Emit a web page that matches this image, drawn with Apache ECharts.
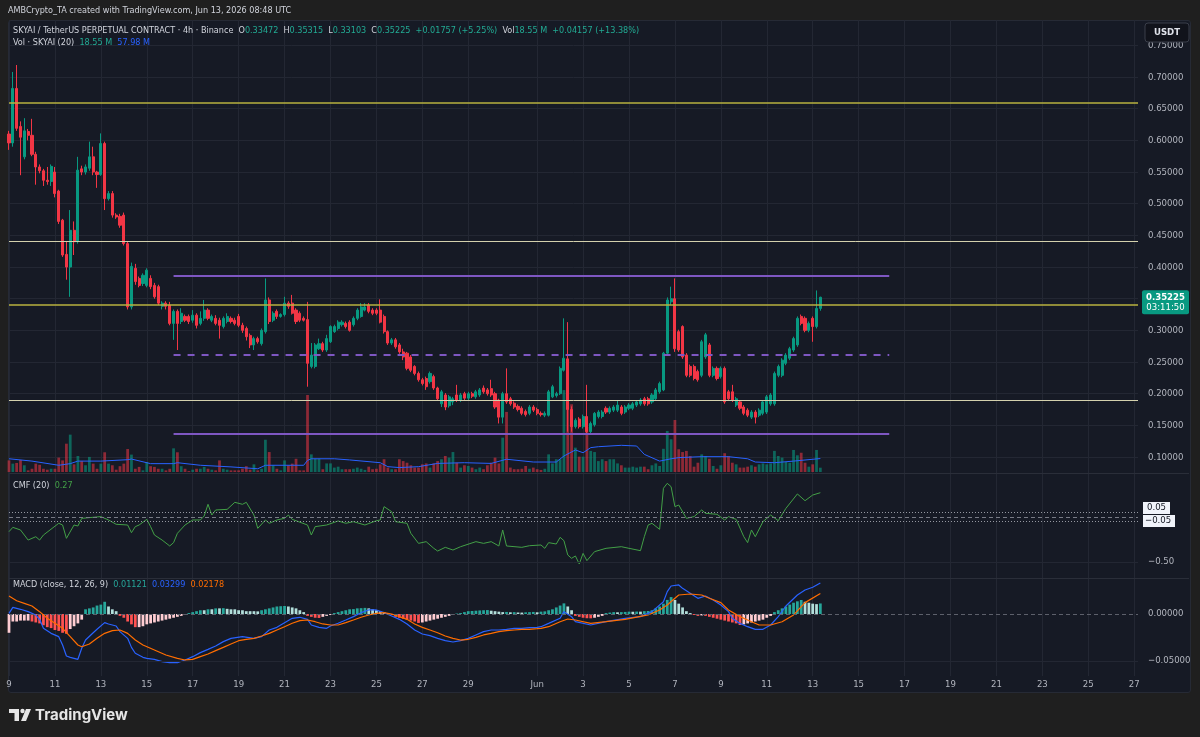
<!DOCTYPE html>
<html>
<head>
<meta charset="utf-8">
<title>SKYAI 4h</title>
<script src="https://cdn.jsdelivr.net/npm/echarts@6.0.0/dist/echarts.min.js"></script>
<style>
html,body{margin:0;padding:0;background:#1f1f1f;}
#panel{position:absolute;left:8px;top:20px;width:1181px;height:671px;background:#161a25;border:1px solid #262a35;border-radius:3px;}
#chart{position:absolute;left:0;top:0;width:1200px;height:737px;}
</style>
</head>
<body>
<div id="panel"></div>
<div id="chart"></div>
<script>
// 4h candles, SKYAIUSDT perp, from May 9 00:00 UTC
// [open, close, low, high]
var candles = [
  [0.610,0.596,0.585,0.615],[0.596,0.682,0.590,0.708],[0.682,0.619,0.615,0.719],[0.622,0.605,0.545,0.630],
  [0.574,0.615,0.570,0.635],[0.614,0.608,0.600,0.618],[0.608,0.578,0.575,0.634],[0.578,0.558,0.530,0.582],
  [0.558,0.552,0.548,0.562],[0.552,0.537,0.528,0.555],[0.537,0.535,0.530,0.558],[0.535,0.559,0.528,0.562],
  [0.550,0.516,0.510,0.558],[0.520,0.472,0.468,0.522],[0.474,0.419,0.416,0.476],[0.420,0.400,0.380,0.440],
  [0.400,0.458,0.353,0.490],[0.458,0.440,0.419,0.472],[0.440,0.553,0.437,0.574],[0.555,0.550,0.545,0.560],
  [0.550,0.558,0.546,0.562],[0.556,0.574,0.552,0.598],[0.574,0.550,0.545,0.590],[0.550,0.546,0.525,0.552],
  [0.546,0.595,0.544,0.611],[0.595,0.508,0.490,0.598],[0.508,0.516,0.505,0.520],[0.516,0.482,0.478,0.520],
  [0.482,0.479,0.476,0.485],[0.480,0.466,0.462,0.484],[0.482,0.437,0.434,0.486],[0.437,0.337,0.333,0.440],
  [0.337,0.401,0.333,0.407],[0.398,0.377,0.372,0.405],[0.382,0.371,0.368,0.385],[0.374,0.387,0.370,0.390],
  [0.371,0.395,0.368,0.398],[0.382,0.369,0.365,0.387],[0.371,0.353,0.350,0.375],[0.369,0.343,0.340,0.372],
  [0.338,0.343,0.333,0.346],[0.343,0.338,0.333,0.346],[0.340,0.311,0.308,0.345],[0.311,0.330,0.285,0.333],
  [0.330,0.311,0.269,0.333],[0.314,0.327,0.310,0.335],[0.322,0.316,0.313,0.325],[0.322,0.314,0.310,0.325],
  [0.316,0.324,0.312,0.332],[0.324,0.308,0.303,0.327],[0.311,0.319,0.308,0.330],[0.319,0.332,0.315,0.348],
  [0.332,0.319,0.316,0.335],[0.316,0.322,0.313,0.325],[0.319,0.311,0.308,0.324],[0.316,0.308,0.287,0.320],
  [0.306,0.319,0.303,0.322],[0.314,0.322,0.311,0.327],[0.319,0.314,0.311,0.322],[0.316,0.311,0.308,0.320],
  [0.322,0.308,0.305,0.326],[0.308,0.300,0.296,0.312],[0.303,0.290,0.284,0.306],[0.292,0.277,0.272,0.295],
  [0.277,0.287,0.269,0.290],[0.287,0.282,0.279,0.290],[0.279,0.300,0.276,0.303],[0.298,0.348,0.295,0.382],
  [0.348,0.314,0.310,0.352],[0.316,0.327,0.313,0.330],[0.330,0.322,0.318,0.333],[0.322,0.325,0.320,0.327],
  [0.325,0.343,0.322,0.353],[0.343,0.338,0.334,0.346],[0.343,0.327,0.325,0.356],[0.332,0.314,0.310,0.335],
  [0.327,0.316,0.313,0.330],[0.319,0.316,0.314,0.322],[0.317,0.248,0.211,0.345],[0.243,0.261,0.240,0.280],
  [0.243,0.277,0.240,0.280],[0.271,0.279,0.269,0.287],[0.279,0.269,0.266,0.282],[0.269,0.287,0.266,0.293],
  [0.282,0.306,0.280,0.308],[0.298,0.306,0.296,0.309],[0.303,0.313,0.300,0.316],[0.309,0.313,0.306,0.316],
  [0.311,0.306,0.303,0.314],[0.313,0.300,0.298,0.316],[0.309,0.319,0.306,0.322],[0.319,0.332,0.316,0.335],
  [0.322,0.337,0.320,0.343],[0.332,0.337,0.330,0.343],[0.340,0.330,0.327,0.343],[0.332,0.327,0.324,0.335],
  [0.332,0.327,0.324,0.335],[0.332,0.313,0.311,0.349],[0.322,0.298,0.295,0.325],[0.298,0.280,0.277,0.300],
  [0.280,0.285,0.277,0.288],[0.285,0.274,0.271,0.288],[0.277,0.266,0.263,0.280],[0.266,0.258,0.253,0.271],
  [0.264,0.240,0.237,0.266],[0.258,0.237,0.234,0.261],[0.243,0.232,0.229,0.245],[0.232,0.222,0.219,0.235],
  [0.222,0.216,0.213,0.225],[0.224,0.211,0.206,0.227],[0.219,0.232,0.216,0.235],[0.227,0.209,0.206,0.230],
  [0.209,0.192,0.189,0.211],[0.184,0.203,0.179,0.206],[0.198,0.179,0.174,0.201],[0.181,0.195,0.178,0.198],
  [0.187,0.192,0.182,0.195],[0.198,0.190,0.187,0.214],[0.190,0.198,0.187,0.201],[0.200,0.193,0.190,0.203],
  [0.193,0.200,0.190,0.203],[0.200,0.196,0.193,0.203],[0.195,0.203,0.192,0.206],[0.198,0.206,0.195,0.209],
  [0.209,0.203,0.200,0.213],[0.206,0.200,0.197,0.209],[0.208,0.198,0.195,0.222],[0.200,0.179,0.176,0.203],
  [0.190,0.163,0.153,0.192],[0.163,0.200,0.153,0.203],[0.200,0.187,0.184,0.240],[0.192,0.184,0.181,0.195],
  [0.185,0.179,0.176,0.188],[0.180,0.175,0.172,0.183],[0.177,0.169,0.166,0.180],[0.172,0.167,0.164,0.175],
  [0.169,0.179,0.166,0.182],[0.179,0.174,0.171,0.182],[0.175,0.169,0.166,0.178],[0.169,0.167,0.164,0.172],
  [0.166,0.169,0.163,0.172],[0.166,0.203,0.164,0.206],[0.195,0.211,0.193,0.214],[0.197,0.200,0.194,0.203],
  [0.200,0.240,0.198,0.243],[0.237,0.256,0.235,0.319],[0.255,0.175,0.140,0.313],[0.175,0.148,0.140,0.180],
  [0.148,0.158,0.145,0.161],[0.160,0.148,0.145,0.163],[0.148,0.164,0.145,0.167],[0.164,0.140,0.137,0.214],
  [0.140,0.153,0.137,0.156],[0.151,0.169,0.148,0.171],[0.164,0.171,0.161,0.174],[0.164,0.171,0.161,0.174],
  [0.177,0.171,0.168,0.180],[0.171,0.177,0.168,0.180],[0.174,0.179,0.171,0.182],[0.174,0.182,0.171,0.190],
  [0.179,0.169,0.166,0.182],[0.171,0.179,0.168,0.182],[0.177,0.182,0.174,0.185],[0.177,0.184,0.174,0.187],
  [0.182,0.187,0.179,0.190],[0.184,0.190,0.181,0.193],[0.192,0.184,0.181,0.195],[0.192,0.184,0.181,0.195],
  [0.187,0.198,0.184,0.201],[0.192,0.206,0.190,0.209],[0.203,0.216,0.200,0.219],[0.206,0.264,0.204,0.266],
  [0.264,0.348,0.261,0.352],[0.345,0.350,0.340,0.369],[0.350,0.271,0.266,0.382],[0.298,0.269,0.266,0.301],
  [0.306,0.258,0.255,0.308],[0.261,0.229,0.226,0.264],[0.243,0.229,0.226,0.246],[0.243,0.224,0.221,0.246],
  [0.235,0.222,0.219,0.238],[0.229,0.282,0.226,0.285],[0.258,0.293,0.255,0.296],[0.277,0.229,0.226,0.280],
  [0.229,0.240,0.226,0.243],[0.240,0.224,0.221,0.243],[0.227,0.240,0.224,0.243],[0.240,0.187,0.184,0.243],
  [0.203,0.192,0.189,0.206],[0.203,0.190,0.187,0.214],[0.182,0.192,0.179,0.195],[0.187,0.177,0.174,0.190],
  [0.179,0.169,0.166,0.182],[0.174,0.166,0.163,0.177],[0.163,0.171,0.160,0.174],[0.171,0.163,0.153,0.174],
  [0.166,0.174,0.163,0.177],[0.169,0.187,0.166,0.190],[0.171,0.195,0.168,0.198],[0.184,0.198,0.181,0.201],
  [0.184,0.232,0.181,0.235],[0.229,0.243,0.226,0.246],[0.229,0.253,0.226,0.256],[0.248,0.261,0.245,0.264],
  [0.256,0.271,0.253,0.274],[0.269,0.287,0.266,0.290],[0.277,0.319,0.274,0.322],[0.322,0.311,0.308,0.325],
  [0.319,0.300,0.297,0.322],[0.300,0.311,0.297,0.314],[0.319,0.306,0.282,0.322],[0.306,0.33468,0.303,0.363],
  [0.33472,0.35225,0.33103,0.35315]
];

// volume per candle, millions
var volumes = [
  50,36,39,52,29,7,14,36,31,14,10,14,14,62,50,122,161,33,69,47,29,65,36,14,36,85,36,29,10,25,36,99,
  75,14,22,7,43,25,22,14,14,7,14,102,85,25,14,4,10,14,14,22,14,10,7,50,14,10,7,7,7,14,25,10,33,7,14,
  139,86,29,14,7,50,29,36,57,7,7,332,
  76,57,57,12,37,37,19,23,12,12,12,14,19,14,9,23,12,14,33,55,19,12,12,55,47,40,29,19,19,33,37,19,37,
  47,55,69,62,86,40,19,29,26,19,12,19,12,29,40,62,37,148,259,19,12,12,14,26,14,19,12,9,14,76,37,55,55,353,
  297,292,105,66,66,194,91,86,47,55,47,55,55,37,29,19,19,23,19,23,23,12,29,37,26,100,177,141,224,98,86,
  91,69,23,40,76,69,57,26,14,29,81,69,40,33,19,19,23,29,23,33,37,33,37,91,69,62,43,40,95,72,83,40,23,33,
  95,18.55
];
var prevVolChange = 0.04157; // from the legend: +0.04157 (+13.38%)
var prevVolPct = 13.38;

// volume MA(20) as [candle index, millions]
var volMA = [
  [0,57],[6,47],[13,29],[16,36],[18,47],[24,47],[31,53],[32,56],[37,36],[43,36],[44,40],[50,29],[58,22],
  [65,14],[67,29],[74,29],[77,29],[78,50],[79,57],[85,57],[89,52],[97,40],[99,23],[102,19],[107,23],
  [112,37],[119,40],[126,37],[130,55],[137,43],[143,43],[145,69],[148,95],[150,83],[152,105],[154,109],
  [160,115],[164,112],[166,76],[170,47],[173,57],[175,62],[181,66],[188,66],[193,57],[195,43],[200,40],
  [205,47],[212,57.98]
];

// Chaikin money flow (20)
var cmf = [
  [0,-0.163],[1,-0.115],[3,-0.144],[5,-0.256],[7,-0.219],[8,-0.256],[9,-0.2],[13,-0.07],[14,-0.089],
  [15,-0.237],[17,-0.089],[18,-0.1],[19,-0.015],[21,-0.007],[24,0.004],[26,-0.033],[28,-0.081],[31,-0.089],
  [32,-0.174],[33,-0.107],[34,-0.089],[36,-0.026],[37,-0.107],[38,-0.2],[40,-0.256],[42,-0.322],[43,-0.285],
  [44,-0.181],[46,-0.089],[48,-0.033],[50,-0.033],[51,0.011],[52,0.141],[53,0.022],[54,0.078],[57,0.085],
  [59,0.163],[61,0.141],[62,0.163],[64,0.022],[65,-0.126],[67,-0.033],[68,-0.07],[70,-0.033],[72,-0.015],
  [73,0.022],[74,-0.026],[78,-0.089],[79,-0.2],[80,-0.107],[83,-0.089],[86,-0.044],[88,-0.07],[90,-0.052],
  [93,-0.089],[96,-0.041],[97,-0.033],[98,0.115],[100,0.059],[101,-0.052],[104,-0.07],[105,-0.181],
  [107,-0.293],[109,-0.274],[111,-0.348],[112,-0.378],[114,-0.337],[116,-0.367],[118,-0.33],[122,-0.274],
  [124,-0.293],[126,-0.274],[128,-0.322],[129,-0.144],[130,-0.322],[134,-0.337],[136,-0.319],[139,-0.311],
  [140,-0.348],[141,-0.285],[143,-0.3],[144,-0.226],[145,-0.263],[146,-0.422],[147,-0.459],[148,-0.433],
  [149,-0.522],[150,-0.404],[151,-0.485],[153,-0.385],[156,-0.348],[160,-0.33],[162,-0.348],[165,-0.374],
  [166,-0.219],[167,-0.089],[168,-0.07],[170,-0.137],[171,0.319],[172,0.374],[173,0.337],[174,0.115],
  [175,0.133],[177,-0.015],[179,0.004],[181,0.078],[182,0.041],[185,0.03],[187,-0.033],[188,0.004],
  [190,-0.026],[192,-0.219],[193,-0.285],[194,-0.144],[195,-0.219],[197,-0.052],[199,0.022],[201,-0.041],
  [203,0.096],[206,0.256],[208,0.181],[210,0.244],[212,0.27]
];

// MACD (12, 26, 9)
var macdLine = [
  [0,0.0007],[1,0.0071],[3,0.005],[5,0.0025],[7,-0.0011],[8,-0.0057],[9,-0.0152],[11,-0.0206],[13,-0.0241],
  [14,-0.033],[15,-0.0447],[16,-0.0461],[18,-0.0482],[19,-0.0365],[20,-0.0277],[22,-0.0199],[23,-0.0163],
  [25,-0.0092],[26,-0.0106],[28,-0.0128],[29,-0.0188],[31,-0.0259],[32,-0.0355],[33,-0.0418],[35,-0.0461],
  [36,-0.0472],[38,-0.0482],[40,-0.0507],[42,-0.0518],[44,-0.0518],[46,-0.0489],[48,-0.0454],[50,-0.0411],
  [52,-0.0376],[54,-0.034],[56,-0.0294],[58,-0.0259],[61,-0.0241],[64,-0.0259],[66,-0.0241],[68,-0.017],
  [70,-0.0142],[72,-0.0092],[74,-0.0046],[76,-0.0035],[78,-0.0057],[79,-0.0117],[81,-0.0142],[83,-0.0152],
  [84,-0.0128],[86,-0.0099],[88,-0.0064],[90,-0.0028],[92,0.0014],[94,0.0043],[96,0.0043],[98,0.0014],
  [100,-0.0021],[102,-0.0057],[104,-0.0106],[106,-0.017],[108,-0.0213],[110,-0.023],[112,-0.0259],
  [114,-0.0284],[116,-0.0298],[118,-0.0284],[120,-0.0259],[122,-0.0223],[124,-0.0188],[126,-0.017],
  [128,-0.017],[130,-0.0163],[132,-0.0152],[134,-0.0152],[136,-0.0145],[138,-0.0142],[139,-0.0135],
  [141,-0.01],[144,-0.0046],[145,0.0025],[147,-0.0028],[148,-0.0082],[152,-0.0117],[156,-0.0082],
  [161,-0.0046],[165,-0.0028],[168,0.0025],[171,0.0131],[172,0.0238],[173,0.0298],[175,0.0309],[176,0.0273],
  [178,0.022],[180,0.0167],[182,0.0191],[184,0.0149],[186,0.0096],[188,0.0025],[189,-0.0046],[191,-0.01],
  [193,-0.0135],[195,-0.0163],[197,-0.0163],[199,-0.0117],[201,-0.0028],[203,0.0085],[206,0.0202],
  [208,0.0255],[210,0.0284],[212,0.03299]
];
var signalLine = [
  [0,0.0191],[2,0.0141],[4,0.0113],[6,0.0085],[8,0.0025],[10,-0.0046],[12,-0.0099],[14,-0.0152],[16,-0.0241],
  [18,-0.033],[19,-0.0348],[21,-0.0319],[23,-0.0259],[25,-0.0206],[27,-0.0177],[29,-0.017],[31,-0.0206],
  [33,-0.0277],[35,-0.033],[38,-0.0383],[41,-0.0436],[44,-0.0472],[46,-0.0489],[48,-0.0482],[50,-0.0454],
  [52,-0.0426],[54,-0.039],[56,-0.0355],[58,-0.0319],[60,-0.0284],[62,-0.0269],[64,-0.0259],[66,-0.0234],
  [68,-0.0206],[70,-0.017],[72,-0.0135],[74,-0.0099],[76,-0.0071],[78,-0.0064],[80,-0.0082],[82,-0.0106],
  [84,-0.0117],[86,-0.0117],[88,-0.0092],[90,-0.0064],[92,-0.0035],[94,-0.0011],[96,0.0007],[98,0.0014],
  [100,0],[102,-0.0028],[104,-0.0057],[106,-0.0106],[108,-0.0142],[110,-0.017],[112,-0.0199],[114,-0.0234],
  [116,-0.0259],[118,-0.0277],[120,-0.0269],[122,-0.0248],[124,-0.0223],[126,-0.0206],[128,-0.0188],
  [130,-0.0177],[132,-0.017],[134,-0.0163],[136,-0.0163],[138,-0.0156],[139,-0.0152],[141,-0.0135],
  [144,-0.0082],[146,-0.0053],[148,-0.0064],[152,-0.01],[156,-0.0082],[161,-0.0057],[167,-0.001],
  [170,0.0043],[172,0.0096],[174,0.0167],[175,0.0202],[178,0.0213],[181,0.0202],[183,0.0167],[186,0.0121],
  [188,0.0043],[191,-0.0028],[194,-0.0082],[196,-0.0117],[199,-0.0117],[202,-0.0082],[205,-0.001],
  [208,0.0121],[212,0.02178]
];
var macdHist = [
  -0.020,-0.008,-0.008,-0.007,-0.007,-0.007,-0.008,-0.009,-0.010,-0.012,-0.014,-0.015,-0.017,-0.018,-0.020,-0.021,
  -0.016,-0.013,-0.010,-0.006,0.005,0.006,0.007,0.009,0.010,0.013,0.008,0.005,0.003,-0.002,-0.004,-0.008,
  -0.011,-0.014,-0.014,-0.013,-0.011,-0.010,-0.009,-0.008,-0.007,-0.006,-0.005,-0.004,-0.003,-0.002,-0.001,
  0.001,0.002,0.003,0.004,0.004,0.005,0.005,0.006,0.006,0.0062,0.0055,0.005,0.005,0.004,0.004,0.003,0.003,
  0.003,0.0028,0.004,0.005,0.006,0.007,0.008,0.0083,0.0085,0.008,0.007,0.006,0.004,0.002,-0.002,-0.003,
  -0.004,-0.0042,-0.003,-0.002,-0.001,0.001,0.002,0.003,0.004,0.005,0.0052,0.006,0.0062,0.0065,0.006,0.005,
  0.004,0.003,0.002,0.001,-0.001,-0.003,-0.004,-0.005,-0.006,-0.007,-0.008,-0.0095,-0.009,-0.008,-0.007,
  -0.006,-0.005,-0.004,-0.003,-0.002,-0.001,0.0005,0.001,0.002,0.003,0.0032,0.0035,0.0038,0.004,0.0042,
  0.0035,0.003,0.0025,0.002,0.0022,0.0018,0.002,0.0016,0.0015,0.0018,0.002,0.0022,0.0018,0.0025,0.0028,
  0.004,0.005,0.007,0.009,0.0113,0.008,0.004,-0.002,-0.003,-0.004,-0.0045,-0.0046,-0.004,-0.003,-0.002,
  0.001,0.0015,0.002,0.0018,0.002,0.0022,0.0025,0.0024,0.0026,0.0025,0.003,0.0032,0.004,0.006,0.008,0.011,
  0.015,0.018,0.0149,0.011,0.007,0.003,0.001,-0.001,-0.002,-0.0015,-0.002,-0.003,-0.004,-0.005,-0.006,
  -0.007,-0.008,-0.009,-0.010,-0.0117,-0.011,-0.010,-0.009,-0.008,-0.007,-0.006,-0.004,-0.002,0.002,0.004,
  0.006,0.008,0.010,0.012,0.0135,0.0149,0.013,0.012,0.011,0.0105,0.01121
];

// drawn levels
var fullLevelsYellow = [0.664, 0.335];
var fullLevelsPale = [0.438, 0.1916];
var rangeLevels = [0.386, 0.261, 0.136]; // top, mid (dashed), bottom
var rangeFrom = 43, rangeTo = 230;

// time axis: 4h slots from May 9 to end of visible area
var slotCount = 296;
var tickDates = ['05-09','05-11','05-13','05-15','05-17','05-19','05-21','05-23','05-25','05-27','05-29',
  '06-01','06-03','06-05','06-07','06-09','06-11','06-13','06-15','06-17','06-19','06-21','06-23','06-25','06-27'];
var tickLabels = ['9','11','13','15','17','19','21','23','25','27','29',
  'Jun','3','5','7','9','11','13','15','17','19','21','23','25','27'];

function pad(n){ return n < 10 ? '0' + n : '' + n; }
var categories = [];
var tickAt = {};
var t0 = Date.UTC(2026, 4, 9);
for (var i = 0; i < slotCount; i++) {
  var d = new Date(t0 + i * 4 * 3600 * 1000);
  var md = pad(d.getUTCMonth() + 1) + '-' + pad(d.getUTCDate());
  categories.push(md + ' ' + pad(d.getUTCHours()) + ':00');
  var k = tickDates.indexOf(md);
  if (d.getUTCHours() === 0 && k >= 0) tickAt[i] = tickLabels[k];
}

var FONT = "'Liberation Sans Narrow','DejaVu Sans Condensed','Roboto Condensed','Liberation Sans',sans-serif";
var FS = 9;
var TXT = '#d1d4dc', AX = '#b2b5be', GRIDC = '#232733';
var UP = '#089981', DOWN = '#f23645';

var chart = echarts.init(document.getElementById('chart'));

var volData = volumes.map(function (v, i) {
  var c = candles[i];
  return { value: v, itemStyle: { color: c[1] >= c[0] ? 'rgba(8,153,129,0.6)' : 'rgba(242,54,69,0.55)' } };
});
var histData = macdHist.map(function (v, i) {
  var p = i > 0 ? macdHist[i - 1] : v;
  var col;
  if (v >= 0) col = v > p ? '#26a69a' : '#b2dfdb';
  else col = v < p ? '#ff5252' : '#ffcdd2';
  return { value: v, itemStyle: { color: col } };
});

function tickFn(index) { return tickAt[index] !== undefined; }

var xAxes = [];
for (var g = 0; g < 5; g++) {
  xAxes.push({
    type: 'category', gridIndex: g, data: categories, boundaryGap: false,
    show: g === 0,
    axisLine: { show: false }, axisTick: { show: false },
    axisLabel: g === 0 ? {
      interval: tickFn, color: AX, fontSize: 9.5, fontFamily: FONT, margin: 4,
      formatter: function (v, idx) { return tickAt[idx] || ''; }
    } : { show: false },
    splitLine: g === 0 ? { show: true, interval: tickFn, lineStyle: { color: GRIDC, width: 1 } } : { show: false }
  });
}

var levelLines = [];
fullLevelsYellow.forEach(function (v) {
  levelLines.push({ yAxis: v, lineStyle: { color: '#b9b23f', width: 1.5, type: 'solid' } });
});
fullLevelsPale.forEach(function (v) {
  levelLines.push({ yAxis: v, lineStyle: { color: '#d4d1ad', width: 1, type: 'solid' } });
});
rangeLevels.forEach(function (v, i) {
  levelLines.push([
    { coord: [rangeFrom, v], lineStyle: { color: '#7e57c2', width: 2, type: i === 1 ? [7, 7] : 'solid' } },
    { coord: [rangeTo, v] }
  ]);
});

var option = {
  backgroundColor: 'transparent',
  animation: false,
  textStyle: { fontFamily: FONT },
  grid: [
    { left: 9, top: 20, width: 1129, height: 656, outerBoundsMode: 'none' },   // frame
    { left: 9, top: 13.7, width: 1129, height: 475, outerBoundsMode: 'none' }, // price
    { left: 9, top: 20, width: 1129, height: 452, outerBoundsMode: 'none' },   // volume
    { left: 9, top: 472, width: 1129, height: 135, outerBoundsMode: 'none' },  // cmf
    { left: 9, top: 567, width: 1129, height: 141, outerBoundsMode: 'none' }   // macd
  ],
  xAxis: xAxes,
  yAxis: [
    { type: 'value', gridIndex: 0, show: false },
    {
      type: 'value', gridIndex: 1, position: 'right', min: 0.05, max: 0.80, interval: 0.05,
      axisLine: { show: false }, axisTick: { show: false },
      axisLabel: {
        color: AX, fontSize: 9.5, fontFamily: FONT, margin: 10,
        formatter: function (v) { return (v < 0.09 || v > 0.76) ? '' : v.toFixed(5); }
      },
      splitLine: { show: true, showMinLine: false, showMaxLine: false, lineStyle: { color: GRIDC } }
    },
    { type: 'value', gridIndex: 2, show: false, min: 0, max: 1948 },
    {
      type: 'value', gridIndex: 3, position: 'right', min: -1, max: 0.5, interval: 0.5,
      axisLine: { show: false }, axisTick: { show: false }, splitLine: { show: false },
      axisLabel: {
        color: AX, fontSize: 9.5, fontFamily: FONT, margin: 10,
        formatter: function (v) { return Math.abs(v + 0.5) < 1e-6 ? '\u22120.50' : ''; }
      }
    },
    {
      type: 'value', gridIndex: 4, position: 'right', min: -0.1, max: 0.05, interval: 0.05,
      axisLine: { show: false }, axisTick: { show: false }, splitLine: { show: false },
      axisLabel: {
        color: AX, fontSize: 9.5, fontFamily: FONT, margin: 10,
        formatter: function (v) {
          if (Math.abs(v) < 1e-9) return '0.00000';
          if (Math.abs(v + 0.05) < 1e-9) return '\u22120.05000';
          return '';
        }
      }
    }
  ],
  series: [
    {
      name: 'Volume', type: 'bar', xAxisIndex: 2, yAxisIndex: 2, data: volData,
      barWidth: '72%', z: 1, silent: true
    },
    {
      name: 'Vol MA', type: 'line', xAxisIndex: 2, yAxisIndex: 2, data: volMA,
      symbol: 'none', lineStyle: { color: '#2962ff', width: 1 }, z: 2, silent: true
    },
    {
      name: 'SKYAI', type: 'candlestick', xAxisIndex: 1, yAxisIndex: 1, data: candles,
      barWidth: '68%', z: 3,
      itemStyle: { color: UP, color0: DOWN, borderColor: UP, borderColor0: DOWN, borderWidth: 1 },
      markLine: { symbol: 'none', silent: true, label: { show: false }, data: levelLines }
    },
    {
      name: 'CMF', type: 'line', xAxisIndex: 3, yAxisIndex: 3, data: cmf,
      symbol: 'none', lineStyle: { color: '#43a047', width: 1 }, z: 3, silent: true,
      markLine: {
        symbol: 'none', silent: true, label: { show: false },
        data: [
          { yAxis: 0, lineStyle: { color: '#787b86', width: 1, type: [4, 3] } },
          { yAxis: 0.05, lineStyle: { color: '#9598a1', width: 1, type: [1, 2] } },
          { yAxis: -0.05, lineStyle: { color: '#9598a1', width: 1, type: [1, 2] } },
          { yAxis: -0.5, lineStyle: { color: GRIDC, width: 1, type: 'solid' } }
        ]
      }
    },
    {
      name: 'Histogram', type: 'bar', xAxisIndex: 4, yAxisIndex: 4, data: histData,
      barWidth: '72%', z: 2, silent: true,
      markLine: {
        symbol: 'none', silent: true, label: { show: false },
        data: [
          { yAxis: 0, lineStyle: { color: '#5d606b', width: 1, type: [4, 3] } },
          { yAxis: -0.05, lineStyle: { color: GRIDC, width: 1, type: 'solid' } }
        ]
      }
    },
    {
      name: 'MACD', type: 'line', xAxisIndex: 4, yAxisIndex: 4, data: macdLine,
      symbol: 'none', lineStyle: { color: '#2962ff', width: 1.2 }, z: 3, silent: true
    },
    {
      name: 'Signal', type: 'line', xAxisIndex: 4, yAxisIndex: 4, data: signalLine,
      symbol: 'none', lineStyle: { color: '#ff6d00', width: 1.2 }, z: 3, silent: true
    }
  ]
};
chart.setOption(option);

// overlays placed from axis positions
var last = candles[candles.length - 1];
var prevClose = candles[candles.length - 2][1];
var chg = last[1] - prevClose;
var lastVol = volumes[volumes.length - 1];
var py = chart.convertToPixel({ yAxisIndex: 1 }, last[1]);
var cz = chart.convertToPixel({ yAxisIndex: 3 }, 0);

function f5(v) { return v.toFixed(5); }
var header2 = '{w|SKYAI / TetherUS PERPETUAL CONTRACT \u00b7 4h \u00b7 Binance}  ' +
  '{w|O}{g|' + f5(last[0]) + '}  {w|H}{g|' + f5(last[3]) + '}  {w|L}{g|' + f5(last[2]) + '}  {w|C}{g|' + f5(last[1]) + '}  ' +
  '{g|+' + f5(chg) + ' (+' + (chg / prevClose * 100).toFixed(2) + '%)}  ' +
  '{w|Vol}{g|' + lastVol.toFixed(2) + ' M}  {g|+' + f5(prevVolChange) + ' (+' + prevVolPct.toFixed(2) + '%)}';
var header3 = '{w|Vol \u00b7 SKYAI (20)}  {g|' + lastVol.toFixed(2) + ' M}  {b|' + volMA[volMA.length - 1][1].toFixed(2) + ' M}';
var cmfText = '{w|CMF (20)}  {gr|' + cmf[cmf.length - 1][1].toFixed(2) + '}';
var macdText = '{w|MACD (close, 12, 26, 9)}  {t|' + f5(macdHist[macdHist.length - 1]) + '}  {b|' +
  f5(macdLine[macdLine.length - 1][1]) + '}  {o|' + f5(signalLine[signalLine.length - 1][1]) + '}';

var rich = {
  w: { fill: TXT, fontSize: FS, fontFamily: FONT },
  g: { fill: '#22ab94', fontSize: FS, fontFamily: FONT },
  gr: { fill: '#43a047', fontSize: FS, fontFamily: FONT },
  b: { fill: '#2962ff', fontSize: FS, fontFamily: FONT },
  t: { fill: '#26a69a', fontSize: FS, fontFamily: FONT },
  o: { fill: '#ff6d00', fontSize: FS, fontFamily: FONT }
};
function label(x, y, text) {
  return { type: 'text', x: x, y: y, z: 100, silent: true,
    style: { text: text, rich: rich, fill: TXT, fontSize: FS, fontFamily: FONT, verticalAlign: 'middle', align: 'left' } };
}

chart.setOption({
  graphic: { elements: [
    { type: 'text', x: 8, y: 11, z: 100, silent: true,
      style: { text: 'AMBCrypto_TA created with TradingView.com, Jun 13, 2026 08:48 UTC', fill: TXT,
        fontSize: FS, fontFamily: FONT, verticalAlign: 'middle' } },
    label(13, 31, header2),
    label(13, 43, header3),
    label(13, 486, cmfText),
    label(13, 585, macdText),
    { type: 'line', z: 90, silent: true, shape: { x1: 9, y1: 473.5, x2: 1189, y2: 473.5 }, style: { stroke: '#2a2e39', lineWidth: 1 } },
    { type: 'line', z: 90, silent: true, shape: { x1: 9, y1: 578.5, x2: 1189, y2: 578.5 }, style: { stroke: '#2a2e39', lineWidth: 1 } },
    // currency box
    { type: 'rect', z: 100, silent: true, shape: { x: 1145, y: 23, width: 44, height: 19, r: 3 },
      style: { fill: '#11131b', stroke: '#3a3e4a', lineWidth: 1 } },
    { type: 'text', z: 101, silent: true, x: 1167, y: 32.5,
      style: { text: 'USDT', fill: '#e0e3eb', fontSize: 9.5, fontWeight: 'bold', fontFamily: FONT, align: 'center', verticalAlign: 'middle' } },
    // last price tag
    { type: 'rect', z: 100, silent: true, shape: { x: 1142, y: py - 7, width: 47, height: 24, r: 2 },
      style: { fill: UP } },
    { type: 'text', z: 101, silent: true, x: 1165.5, y: py,
      style: { text: f5(last[1]), fill: '#ffffff', fontSize: 9.5, fontWeight: 'bold', fontFamily: FONT, align: 'center', verticalAlign: 'middle' } },
    { type: 'text', z: 101, silent: true, x: 1165.5, y: py + 10.5,
      style: { text: '03:11:50', fill: '#ffffff', fontSize: 9.5, fontFamily: FONT, align: 'center', verticalAlign: 'middle' } },
    // CMF band tags
    { type: 'rect', z: 100, silent: true, shape: { x: 1143, y: cz - 15, width: 27, height: 12 }, style: { fill: '#f0f3fa' } },
    { type: 'text', z: 101, silent: true, x: 1147, y: cz - 9,
      style: { text: '0.05', fill: '#131722', fontSize: 9.5, fontFamily: FONT, verticalAlign: 'middle' } },
    { type: 'rect', z: 100, silent: true, shape: { x: 1143, y: cz - 2, width: 32, height: 12 }, style: { fill: '#f0f3fa' } },
    { type: 'text', z: 101, silent: true, x: 1145, y: cz + 4,
      style: { text: '\u22120.05', fill: '#131722', fontSize: 9.5, fontFamily: FONT, verticalAlign: 'middle' } },
    // footer logo
    { type: 'rect', z: 100, silent: true, shape: { x: 9, y: 709, width: 10, height: 4 }, style: { fill: '#e6e6e6' } },
    { type: 'rect', z: 100, silent: true, shape: { x: 14.5, y: 709, width: 4.5, height: 12 }, style: { fill: '#e6e6e6' } },
    { type: 'circle', z: 100, silent: true, shape: { cx: 22.5, cy: 711, r: 2.2 }, style: { fill: '#e6e6e6' } },
    { type: 'polygon', z: 100, silent: true, shape: { points: [[26, 709], [31, 709], [26, 721], [21, 721]] }, style: { fill: '#e6e6e6' } },
    { type: 'text', z: 100, silent: true, x: 35, y: 715.5,
      style: { text: 'TradingView', fill: '#e6e6e6', fontSize: 15, fontWeight: 'bold', fontFamily: "Inter, Roboto, sans-serif", verticalAlign: 'middle' } }
  ] }
});
</script>
</body>
</html>
